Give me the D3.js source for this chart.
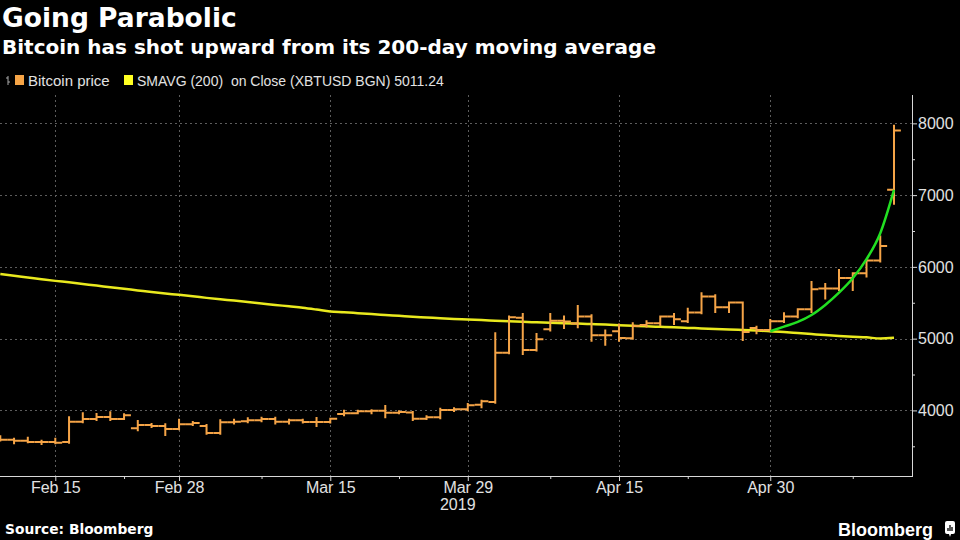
<!DOCTYPE html>
<html><head><meta charset="utf-8">
<script src="https://cdn.jsdelivr.net/npm/d3@7"></script>
<style>
html,body{margin:0;padding:0;background:#000;}
svg{display:block;}
</style></head>
<body>
<svg id="c" width="960" height="540"></svg>
<script>
// ---- Data ----
const dates = ["Feb 11","Feb 12","Feb 13","Feb 14","Feb 15","Feb 18","Feb 19","Feb 20","Feb 21","Feb 22",
"Feb 25","Feb 26","Feb 27","Feb 28","Mar 1","Mar 4","Mar 5","Mar 6","Mar 7","Mar 8",
"Mar 11","Mar 12","Mar 13","Mar 14","Mar 15","Mar 18","Mar 19","Mar 20","Mar 21","Mar 22",
"Mar 25","Mar 26","Mar 27","Mar 28","Mar 29","Apr 1","Apr 2","Apr 3","Apr 4","Apr 5",
"Apr 8","Apr 9","Apr 10","Apr 11","Apr 12","Apr 15","Apr 16","Apr 17","Apr 18","Apr 19",
"Apr 22","Apr 23","Apr 24","Apr 25","Apr 26","Apr 29","Apr 30","May 1","May 2","May 3",
"May 6","May 7","May 8","May 9","May 10","May 13"];

const open  = [3600,3592,3578,3560,3560,3560,3843,3880,3908,3880,
3751,3797,3783,3741,3807,3783,3685,3835,3850,3862,
3880,3843,3862,3839,3839,3950,3960,3987,3996,3968,
3970,3885,3904,4006,4016,4080,4118,4805,5290,4843,
5131,5251,5210,5307,5047,5103,5005,5190,5215,5307,
5243,5363,5586,5437,5502,5149,5121,5243,5307,5410,
5700,5697,5846,5911,6088,7073];
const high  = [3640,3606,3620,3578,3606,3904,3960,3950,3974,3946,
3853,3811,3807,3871,3839,3797,3862,3871,3890,3899,
3899,3871,3871,3894,3885,3994,3994,4001,4062,3987,
3978,3920,4024,4030,4090,4136,5075,5307,5344,5065,
5344,5307,5456,5325,5112,5196,5215,5244,5307,5344,
5418,5633,5605,5502,5502,5167,5261,5354,5410,5791,
5763,5958,5911,6097,6422,7965];
const low   = [3580,3542,3556,3532,3542,3550,3835,3867,3867,3880,
3723,3769,3658,3737,3797,3676,3676,3816,3835,3850,
3816,3816,3830,3783,3830,3932,3960,3960,3904,3960,
3867,3880,3890,3992,4001,4044,4108,4796,4787,4834,
5112,5149,5159,4972,4916,4972,5000,5170,5190,5205,
5233,5354,5372,5372,4982,5075,5103,5233,5298,5372,
5558,5679,5679,5865,6074,6878];
const close = [3592,3578,3560,3560,3550,3843,3880,3908,3880,3932,
3797,3783,3741,3807,3825,3685,3835,3843,3862,3880,
3843,3862,3839,3839,3885,3960,3987,3996,3968,3978,
3885,3904,4006,4016,4071,4127,4805,5298,4843,4991,
5251,5240,5307,5047,5047,5010,5177,5215,5307,5270,
5363,5586,5437,5502,5093,5121,5243,5307,5410,5689,
5697,5846,5911,6088,6292,7900];
const smavg = [5900,5875,5852,5828,5805,5785,5762,5740,5716,5694,
5672,5650,5630,5610,5590,5568,5548,5530,5510,5490,
5470,5450,5430,5405,5378,5368,5355,5342,5330,5318,
5305,5295,5284,5275,5268,5260,5250,5241,5234,5228,
5222,5216,5210,5203,5196,5188,5180,5172,5165,5158,
5150,5143,5135,5128,5120,5112,5104,5092,5078,5064,
5050,5038,5027,5018,5002,5011];
// hand-drawn "parabolic" annotation curve
const trendDates = ["Apr 30","May 1","May 2","May 3","May 6","May 7","May 8","May 9","May 10","May 13"];
const trendValues = [5103,5167,5233,5330,5470,5641,5842,6107,6469,7073];

const xTickLabels = ["Feb 15","Feb 28","Mar 15","Mar 29","Apr 15","Apr 30"];
const xMinorTicks = ["Feb 22","Mar 8","Mar 22","Apr 8","Apr 22","May 8"];
const yTicks = [4000,5000,6000,7000,8000];
const yMinorTicks = [3500,4500,5500,6500,7500];
const yearLabel = "2019";

// ---- Layout ----
const svg = d3.select("#c");
const plotL = 0, plotR = 912, plotT = 95, plotB = 476;
const x = d3.scalePoint().domain(dates).range([0.3, 894]);
const y = d3.scaleLinear().domain([3086, 8395]).range([plotB, plotT]);
const ORANGE = "#f5a447", YELLOW = "#e9e91e", GREEN = "#22e022", TXT = "#e2e2e2";

// Titles
svg.append("text").attr("x",2).attr("y",27).attr("fill","#fff")
  .style("font-family","DejaVu Sans").style("font-weight","bold").style("font-size","26.5px")
  .text("Going Parabolic");
svg.append("text").attr("x",2).attr("y",54).attr("fill","#fff")
  .style("font-family","DejaVu Sans").style("font-weight","bold").style("font-size","20px")
  .text("Bitcoin has shot upward from its 200-day moving average");

// Legend
const lg = svg.append("g");
lg.append("path").attr("d","M8,76 V85 M6,78 H8 M8,82 H10").attr("stroke","#aaa").attr("stroke-width",1).attr("fill","none");
lg.append("rect").attr("x",15).attr("y",75).attr("width",9).attr("height",10).attr("fill",ORANGE);
lg.append("text").attr("x",28).attr("y",86).attr("fill",TXT)
  .style("font-family","Liberation Sans").style("font-size","15px").text("Bitcoin price");
lg.append("rect").attr("x",124).attr("y",75).attr("width",9).attr("height",10).attr("fill","#ffff22");
lg.append("text").attr("x",137).attr("y",86).attr("fill",TXT).style("white-space","pre")
  .style("font-family","Liberation Sans").style("font-size","14px").text("SMAVG (200)  on Close (XBTUSD BGN) 5011.24");

// Gridlines
const grid = svg.append("g").attr("stroke","#5c5c5c").attr("stroke-width",1).attr("stroke-dasharray","2,3");
grid.selectAll("line.h").data(yTicks).join("line")
  .attr("x1",plotL).attr("x2",plotR).attr("y1",d=>Math.round(y(d))+0.5).attr("y2",d=>Math.round(y(d))+0.5);
grid.selectAll("line.v").data(xTickLabels).join("line")
  .attr("x1",d=>Math.round(x(d))+0.5).attr("x2",d=>Math.round(x(d))+0.5).attr("y1",plotT).attr("y2",plotB);

// SMAVG line
svg.append("path").datum(dates)
  .attr("fill","none").attr("stroke",YELLOW).attr("stroke-width",2.5)
  .attr("d", d3.line().x(d=>x(d)).y((d,i)=>y(smavg[i])).curve(d3.curveMonotoneX));

// OHLC bars
const half = x.step()/2;
const bars = svg.append("g").attr("stroke",ORANGE).attr("stroke-width",2).attr("fill","none");
bars.selectAll("path").data(dates).join("path")
  .attr("d",(d,i)=>{
    const cx = x(d);
    return `M${cx},${y(high[i])-1}V${y(low[i])+1}M${cx-half},${y(open[i])}H${cx}M${cx},${y(close[i])}H${cx+half}`;
  });

// Green trend curve
svg.append("path").datum(trendDates)
  .attr("fill","none").attr("stroke",GREEN).attr("stroke-width",2.5)
  .attr("d", d3.line().x(d=>x(d)).y((d,i)=>y(trendValues[i])).curve(d3.curveMonotoneX));

// Axes
const axisCol = "#d8d8d8";
svg.append("line").attr("x1",0).attr("x2",plotR).attr("y1",plotB+0.5).attr("y2",plotB+0.5).attr("stroke",axisCol).attr("stroke-width",1);
svg.append("line").attr("x1",plotR+0.5).attr("x2",plotR+0.5).attr("y1",plotT).attr("y2",plotB+1).attr("stroke",axisCol).attr("stroke-width",1);

const xAxis = svg.append("g").attr("transform",`translate(0,${plotB})`)
  .call(d3.axisBottom(x).tickValues(xTickLabels).tickSize(5).tickPadding(1));
const xMinor = svg.append("g").attr("transform",`translate(0,${plotB})`)
  .call(d3.axisBottom(x).tickValues(xMinorTicks).tickSize(3).tickFormat(""));
const yAxis = svg.append("g").attr("transform",`translate(${plotR},0)`)
  .call(d3.axisRight(y).tickValues(yTicks).tickSize(5).tickPadding(1).tickFormat(d3.format("d")));
const yMinor = svg.append("g").attr("transform",`translate(${plotR},0)`)
  .call(d3.axisRight(y).tickValues(yMinorTicks).tickSize(3).tickFormat(""));
[xAxis,xMinor,yAxis,yMinor].forEach(g=>{
  g.select(".domain").remove();
  g.selectAll(".tick line").attr("stroke",axisCol);
  g.selectAll("text").attr("fill",TXT).style("font-family","Liberation Sans").style("font-size","16px");
});
xAxis.append("text").attr("x",x("Mar 29")-10).attr("y",34).attr("text-anchor","middle")
  .attr("fill",TXT).style("font-family","Liberation Sans").style("font-size","16px").text(yearLabel);

// Footer
svg.append("text").attr("x",5).attr("y",534).attr("fill","#fff")
  .style("font-family","DejaVu Sans").style("font-weight","bold").style("font-size","13.8px")
  .text("Source: Bloomberg");
svg.append("text").attr("x",933).attr("y",536).attr("text-anchor","end").attr("fill","#fff")
  .style("font-family","Liberation Sans").style("font-weight","bold").style("font-size","18px")
  .text("Bloomberg");
const logo = svg.append("g").attr("transform","translate(945,521)");
logo.append("rect").attr("width",10).attr("height",13).attr("rx",2).attr("fill","#fff");
logo.append("path").attr("d","M3,7V10M5,4V10M7,6V10").attr("stroke","#000").attr("stroke-width",1.3);
logo.append("path").attr("d","M4,13L5,16L6,13Z").attr("fill","#fff");
</script>
</body></html>
